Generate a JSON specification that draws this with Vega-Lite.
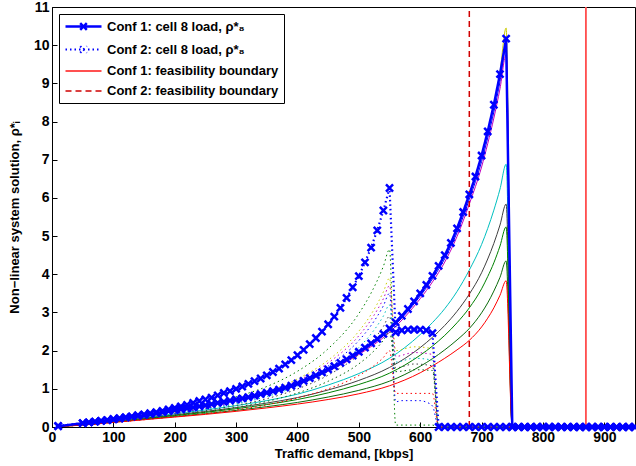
{
"$schema": "https://vega.github.io/schema/vega-lite/v6.json",
"width": 583, "height": 420,
"autosize": {"type": "none"},
"padding": {"left": 52, "top": 7, "right": 1, "bottom": 39},
"config": {
  "font": "Liberation Sans",
  "view": {"stroke": "black", "strokeWidth": 1},
  "axis": {"grid": false, "domainColor": "black", "tickColor": "black", "labelColor": "black", "titleColor": "black", "labelFont": "Liberation Sans", "titleFont": "Liberation Sans", "labelFontWeight": "bold", "labelFontSize": 14, "titleFontSize": 13, "titleFontWeight": "bold", "labelOverlap": false, "labelFlush": false},
  "legend": {"orient": "top-left", "offset": 7, "strokeColor": "black", "fillColor": "white", "padding": 5, "cornerRadius": 0, "labelFont": "Liberation Sans", "labelFontSize": 13, "labelFontWeight": "bold", "labelColor": "black", "labelLimit": 400, "symbolType": "M-3,0L3,0", "symbolSize": 144, "symbolOffset": 12, "labelOffset": 16, "rowPadding": 6}
},
"datasets": {
"main": [
{"x":10,"y":0.02,"s":"c1"},{"x":50,"y":0.10,"s":"c1"},{"x":60,"y":0.12,"s":"c1"},{"x":70,"y":0.14,"s":"c1"},{"x":80,"y":0.16,"s":"c1"},{"x":90,"y":0.18,"s":"c1"},{"x":100,"y":0.20,"s":"c1"},{"x":110,"y":0.22,"s":"c1"},{"x":120,"y":0.245,"s":"c1"},{"x":130,"y":0.27,"s":"c1"},{"x":140,"y":0.29,"s":"c1"},{"x":150,"y":0.315,"s":"c1"},{"x":160,"y":0.34,"s":"c1"},{"x":170,"y":0.365,"s":"c1"},{"x":180,"y":0.39,"s":"c1"},{"x":190,"y":0.415,"s":"c1"},{"x":200,"y":0.44,"s":"c1"},{"x":210,"y":0.465,"s":"c1"},{"x":220,"y":0.49,"s":"c1"},{"x":230,"y":0.515,"s":"c1"},{"x":240,"y":0.54,"s":"c1"},{"x":250,"y":0.57,"s":"c1"},{"x":260,"y":0.60,"s":"c1"},{"x":270,"y":0.63,"s":"c1"},{"x":280,"y":0.66,"s":"c1"},{"x":290,"y":0.69,"s":"c1"},{"x":300,"y":0.72,"s":"c1"},{"x":310,"y":0.75,"s":"c1"},{"x":320,"y":0.78,"s":"c1"},{"x":330,"y":0.82,"s":"c1"},{"x":340,"y":0.86,"s":"c1"},{"x":350,"y":0.90,"s":"c1"},{"x":360,"y":0.94,"s":"c1"},{"x":370,"y":0.98,"s":"c1"},{"x":380,"y":1.03,"s":"c1"},{"x":390,"y":1.08,"s":"c1"},{"x":400,"y":1.14,"s":"c1"},{"x":410,"y":1.21,"s":"c1"},{"x":420,"y":1.28,"s":"c1"},{"x":430,"y":1.35,"s":"c1"},{"x":440,"y":1.43,"s":"c1"},{"x":450,"y":1.51,"s":"c1"},{"x":460,"y":1.59,"s":"c1"},{"x":470,"y":1.68,"s":"c1"},{"x":480,"y":1.77,"s":"c1"},{"x":490,"y":1.87,"s":"c1"},{"x":500,"y":1.97,"s":"c1"},{"x":510,"y":2.08,"s":"c1"},{"x":520,"y":2.19,"s":"c1"},{"x":530,"y":2.31,"s":"c1"},{"x":540,"y":2.44,"s":"c1"},{"x":550,"y":2.58,"s":"c1"},{"x":560,"y":2.74,"s":"c1"},{"x":570,"y":2.91,"s":"c1"},{"x":580,"y":3.09,"s":"c1"},{"x":590,"y":3.29,"s":"c1"},{"x":600,"y":3.50,"s":"c1"},{"x":610,"y":3.72,"s":"c1"},{"x":620,"y":3.96,"s":"c1"},{"x":630,"y":4.22,"s":"c1"},{"x":640,"y":4.50,"s":"c1"},{"x":650,"y":4.82,"s":"c1"},{"x":660,"y":5.20,"s":"c1"},{"x":670,"y":5.63,"s":"c1"},{"x":680,"y":6.09,"s":"c1"},{"x":690,"y":6.56,"s":"c1"},{"x":700,"y":7.11,"s":"c1"},{"x":710,"y":7.74,"s":"c1"},{"x":720,"y":8.44,"s":"c1"},{"x":730,"y":9.24,"s":"c1"},{"x":740,"y":10.17,"s":"c1"},{"x":750,"y":0,"s":"c1"},{"x":760,"y":0,"s":"c1"},{"x":770,"y":0,"s":"c1"},{"x":780,"y":0,"s":"c1"},{"x":790,"y":0,"s":"c1"},{"x":800,"y":0,"s":"c1"},{"x":810,"y":0,"s":"c1"},{"x":820,"y":0,"s":"c1"},{"x":830,"y":0,"s":"c1"},{"x":840,"y":0,"s":"c1"},{"x":850,"y":0,"s":"c1"},{"x":860,"y":0,"s":"c1"},{"x":870,"y":0,"s":"c1"},{"x":880,"y":0,"s":"c1"},{"x":890,"y":0,"s":"c1"},{"x":900,"y":0,"s":"c1"},{"x":910,"y":0,"s":"c1"},{"x":920,"y":0,"s":"c1"},{"x":930,"y":0,"s":"c1"},{"x":940,"y":0,"s":"c1"},{"x":950,"y":0,"s":"c1"},
{"x":10,"y":0.03,"s":"c2"},{"x":50,"y":0.10,"s":"c2"},{"x":60,"y":0.12,"s":"c2"},{"x":70,"y":0.14,"s":"c2"},{"x":80,"y":0.16,"s":"c2"},{"x":90,"y":0.18,"s":"c2"},{"x":100,"y":0.21,"s":"c2"},{"x":110,"y":0.23,"s":"c2"},{"x":120,"y":0.26,"s":"c2"},{"x":130,"y":0.28,"s":"c2"},{"x":140,"y":0.31,"s":"c2"},{"x":150,"y":0.33,"s":"c2"},{"x":160,"y":0.36,"s":"c2"},{"x":170,"y":0.39,"s":"c2"},{"x":180,"y":0.42,"s":"c2"},{"x":190,"y":0.46,"s":"c2"},{"x":200,"y":0.50,"s":"c2"},{"x":210,"y":0.54,"s":"c2"},{"x":220,"y":0.58,"s":"c2"},{"x":230,"y":0.63,"s":"c2"},{"x":240,"y":0.68,"s":"c2"},{"x":250,"y":0.72,"s":"c2"},{"x":260,"y":0.77,"s":"c2"},{"x":270,"y":0.83,"s":"c2"},{"x":280,"y":0.89,"s":"c2"},{"x":290,"y":0.94,"s":"c2"},{"x":300,"y":1.00,"s":"c2"},{"x":310,"y":1.06,"s":"c2"},{"x":320,"y":1.13,"s":"c2"},{"x":330,"y":1.20,"s":"c2"},{"x":340,"y":1.27,"s":"c2"},{"x":350,"y":1.35,"s":"c2"},{"x":360,"y":1.44,"s":"c2"},{"x":370,"y":1.53,"s":"c2"},{"x":380,"y":1.64,"s":"c2"},{"x":390,"y":1.75,"s":"c2"},{"x":400,"y":1.88,"s":"c2"},{"x":410,"y":2.02,"s":"c2"},{"x":420,"y":2.17,"s":"c2"},{"x":430,"y":2.33,"s":"c2"},{"x":440,"y":2.50,"s":"c2"},{"x":450,"y":2.69,"s":"c2"},{"x":460,"y":2.89,"s":"c2"},{"x":470,"y":3.12,"s":"c2"},{"x":480,"y":3.38,"s":"c2"},{"x":490,"y":3.66,"s":"c2"},{"x":500,"y":3.95,"s":"c2"},{"x":510,"y":4.31,"s":"c2"},{"x":520,"y":4.70,"s":"c2"},{"x":530,"y":5.15,"s":"c2"},{"x":540,"y":5.67,"s":"c2"},{"x":550,"y":6.26,"s":"c2"},{"x":560,"y":2.48,"s":"c2"},{"x":570,"y":2.53,"s":"c2"},{"x":580,"y":2.55,"s":"c2"},{"x":590,"y":2.55,"s":"c2"},{"x":600,"y":2.55,"s":"c2"},{"x":610,"y":2.53,"s":"c2"},{"x":620,"y":2.46,"s":"c2"},{"x":630,"y":0,"s":"c2"},{"x":640,"y":0,"s":"c2"},{"x":650,"y":0,"s":"c2"},{"x":660,"y":0,"s":"c2"},{"x":670,"y":0,"s":"c2"},{"x":680,"y":0,"s":"c2"},{"x":690,"y":0,"s":"c2"},{"x":700,"y":0,"s":"c2"},{"x":710,"y":0,"s":"c2"},{"x":720,"y":0,"s":"c2"},{"x":730,"y":0,"s":"c2"},{"x":740,"y":0,"s":"c2"},{"x":750,"y":0,"s":"c2"},{"x":760,"y":0,"s":"c2"},{"x":770,"y":0,"s":"c2"},{"x":780,"y":0,"s":"c2"},{"x":790,"y":0,"s":"c2"},{"x":800,"y":0,"s":"c2"},{"x":810,"y":0,"s":"c2"},{"x":820,"y":0,"s":"c2"},{"x":830,"y":0,"s":"c2"},{"x":840,"y":0,"s":"c2"},{"x":850,"y":0,"s":"c2"},{"x":860,"y":0,"s":"c2"},{"x":870,"y":0,"s":"c2"},{"x":880,"y":0,"s":"c2"},{"x":890,"y":0,"s":"c2"},{"x":900,"y":0,"s":"c2"},{"x":910,"y":0,"s":"c2"},{"x":920,"y":0,"s":"c2"},{"x":930,"y":0,"s":"c2"},{"x":940,"y":0,"s":"c2"},{"x":950,"y":0,"s":"c2"},
{"x":870,"y":0,"s":"b1"},{"x":870,"y":11,"s":"b1"},
{"x":680,"y":0,"s":"b2"},{"x":680,"y":11,"s":"b2"}
],
"thin1": [
{"x":10,"y":0.02,"cell":"cell 6"},{"x":50,"y":0.10,"cell":"cell 6"},{"x":100,"y":0.20,"cell":"cell 6"},{"x":150,"y":0.315,"cell":"cell 6"},{"x":200,"y":0.44,"cell":"cell 6"},{"x":250,"y":0.57,"cell":"cell 6"},{"x":300,"y":0.72,"cell":"cell 6"},{"x":350,"y":0.90,"cell":"cell 6"},{"x":400,"y":1.14,"cell":"cell 6"},{"x":450,"y":1.51,"cell":"cell 6"},{"x":500,"y":1.97,"cell":"cell 6"},{"x":550,"y":2.58,"cell":"cell 6"},{"x":600,"y":3.50,"cell":"cell 6"},{"x":620,"y":3.96,"cell":"cell 6"},{"x":640,"y":4.50,"cell":"cell 6"},{"x":660,"y":5.20,"cell":"cell 6"},{"x":680,"y":6.09,"cell":"cell 6"},{"x":700,"y":7.11,"cell":"cell 6"},{"x":710,"y":7.74,"cell":"cell 6"},{"x":720,"y":8.44,"cell":"cell 6"},{"x":730,"y":9.30,"cell":"cell 6"},{"x":740,"y":10.45,"cell":"cell 6"},{"x":750,"y":0,"cell":"cell 6"},{"x":950,"y":0,"cell":"cell 6"},
{"x":10,"y":0.02,"cell":"cell 1"},{"x":50,"y":0.10,"cell":"cell 1"},{"x":100,"y":0.20,"cell":"cell 1"},{"x":150,"y":0.31,"cell":"cell 1"},{"x":200,"y":0.43,"cell":"cell 1"},{"x":250,"y":0.56,"cell":"cell 1"},{"x":300,"y":0.71,"cell":"cell 1"},{"x":350,"y":0.89,"cell":"cell 1"},{"x":400,"y":1.12,"cell":"cell 1"},{"x":450,"y":1.48,"cell":"cell 1"},{"x":500,"y":1.93,"cell":"cell 1"},{"x":550,"y":2.53,"cell":"cell 1"},{"x":600,"y":3.43,"cell":"cell 1"},{"x":620,"y":3.88,"cell":"cell 1"},{"x":640,"y":4.41,"cell":"cell 1"},{"x":660,"y":5.09,"cell":"cell 1"},{"x":680,"y":5.96,"cell":"cell 1"},{"x":700,"y":6.95,"cell":"cell 1"},{"x":710,"y":7.57,"cell":"cell 1"},{"x":720,"y":8.25,"cell":"cell 1"},{"x":730,"y":9.04,"cell":"cell 1"},{"x":740,"y":9.95,"cell":"cell 1"},{"x":750,"y":0,"cell":"cell 1"},{"x":950,"y":0,"cell":"cell 1"},
{"x":10,"y":0.02,"cell":"cell 5"},{"x":50,"y":0.10,"cell":"cell 5"},{"x":100,"y":0.195,"cell":"cell 5"},{"x":150,"y":0.31,"cell":"cell 5"},{"x":200,"y":0.43,"cell":"cell 5"},{"x":250,"y":0.55,"cell":"cell 5"},{"x":300,"y":0.70,"cell":"cell 5"},{"x":350,"y":0.87,"cell":"cell 5"},{"x":400,"y":1.10,"cell":"cell 5"},{"x":450,"y":1.46,"cell":"cell 5"},{"x":500,"y":1.90,"cell":"cell 5"},{"x":550,"y":2.48,"cell":"cell 5"},{"x":600,"y":3.36,"cell":"cell 5"},{"x":620,"y":3.80,"cell":"cell 5"},{"x":640,"y":4.32,"cell":"cell 5"},{"x":660,"y":4.99,"cell":"cell 5"},{"x":680,"y":5.84,"cell":"cell 5"},{"x":700,"y":6.81,"cell":"cell 5"},{"x":710,"y":7.42,"cell":"cell 5"},{"x":720,"y":8.09,"cell":"cell 5"},{"x":730,"y":8.86,"cell":"cell 5"},{"x":740,"y":9.75,"cell":"cell 5"},{"x":750,"y":0,"cell":"cell 5"},{"x":950,"y":0,"cell":"cell 5"},
{"x":10,"y":0.015,"cell":"cell 4"},{"x":50,"y":0.074,"cell":"cell 4"},{"x":100,"y":0.158,"cell":"cell 4"},{"x":150,"y":0.25,"cell":"cell 4"},{"x":200,"y":0.347,"cell":"cell 4"},{"x":250,"y":0.445,"cell":"cell 4"},{"x":300,"y":0.559,"cell":"cell 4"},{"x":350,"y":0.692,"cell":"cell 4"},{"x":400,"y":0.86,"cell":"cell 4"},{"x":450,"y":1.10,"cell":"cell 4"},{"x":500,"y":1.40,"cell":"cell 4"},{"x":550,"y":1.80,"cell":"cell 4"},{"x":600,"y":2.42,"cell":"cell 4"},{"x":620,"y":2.735,"cell":"cell 4"},{"x":640,"y":3.10,"cell":"cell 4"},{"x":660,"y":3.55,"cell":"cell 4"},{"x":680,"y":4.11,"cell":"cell 4"},{"x":700,"y":4.78,"cell":"cell 4"},{"x":710,"y":5.20,"cell":"cell 4"},{"x":720,"y":5.68,"cell":"cell 4"},{"x":730,"y":6.23,"cell":"cell 4"},{"x":740,"y":6.88,"cell":"cell 4"},{"x":750,"y":0,"cell":"cell 4"},{"x":950,"y":0,"cell":"cell 4"},
{"x":10,"y":0.013,"cell":"cell 7"},{"x":50,"y":0.066,"cell":"cell 7"},{"x":100,"y":0.145,"cell":"cell 7"},{"x":150,"y":0.23,"cell":"cell 7"},{"x":200,"y":0.317,"cell":"cell 7"},{"x":250,"y":0.406,"cell":"cell 7"},{"x":300,"y":0.508,"cell":"cell 7"},{"x":350,"y":0.627,"cell":"cell 7"},{"x":400,"y":0.771,"cell":"cell 7"},{"x":450,"y":0.97,"cell":"cell 7"},{"x":500,"y":1.22,"cell":"cell 7"},{"x":550,"y":1.56,"cell":"cell 7"},{"x":600,"y":2.08,"cell":"cell 7"},{"x":620,"y":2.35,"cell":"cell 7"},{"x":640,"y":2.66,"cell":"cell 7"},{"x":660,"y":3.03,"cell":"cell 7"},{"x":680,"y":3.48,"cell":"cell 7"},{"x":700,"y":4.04,"cell":"cell 7"},{"x":710,"y":4.40,"cell":"cell 7"},{"x":720,"y":4.81,"cell":"cell 7"},{"x":730,"y":5.29,"cell":"cell 7"},{"x":740,"y":5.84,"cell":"cell 7"},{"x":750,"y":0,"cell":"cell 7"},{"x":950,"y":0,"cell":"cell 7"},
{"x":10,"y":0.012,"cell":"cell 2"},{"x":50,"y":0.061,"cell":"cell 2"},{"x":100,"y":0.138,"cell":"cell 2"},{"x":150,"y":0.218,"cell":"cell 2"},{"x":200,"y":0.30,"cell":"cell 2"},{"x":250,"y":0.383,"cell":"cell 2"},{"x":300,"y":0.479,"cell":"cell 2"},{"x":350,"y":0.589,"cell":"cell 2"},{"x":400,"y":0.72,"cell":"cell 2"},{"x":450,"y":0.895,"cell":"cell 2"},{"x":500,"y":1.114,"cell":"cell 2"},{"x":550,"y":1.41,"cell":"cell 2"},{"x":600,"y":1.88,"cell":"cell 2"},{"x":620,"y":2.12,"cell":"cell 2"},{"x":640,"y":2.40,"cell":"cell 2"},{"x":660,"y":2.73,"cell":"cell 2"},{"x":680,"y":3.12,"cell":"cell 2"},{"x":700,"y":3.62,"cell":"cell 2"},{"x":710,"y":3.94,"cell":"cell 2"},{"x":720,"y":4.30,"cell":"cell 2"},{"x":730,"y":4.74,"cell":"cell 2"},{"x":740,"y":5.24,"cell":"cell 2"},{"x":750,"y":0,"cell":"cell 2"},{"x":950,"y":0,"cell":"cell 2"},
{"x":10,"y":0.011,"cell":"cell 9"},{"x":50,"y":0.054,"cell":"cell 9"},{"x":100,"y":0.127,"cell":"cell 9"},{"x":150,"y":0.20,"cell":"cell 9"},{"x":200,"y":0.275,"cell":"cell 9"},{"x":250,"y":0.35,"cell":"cell 9"},{"x":300,"y":0.435,"cell":"cell 9"},{"x":350,"y":0.533,"cell":"cell 9"},{"x":400,"y":0.644,"cell":"cell 9"},{"x":450,"y":0.785,"cell":"cell 9"},{"x":500,"y":0.96,"cell":"cell 9"},{"x":550,"y":1.20,"cell":"cell 9"},{"x":600,"y":1.59,"cell":"cell 9"},{"x":620,"y":1.79,"cell":"cell 9"},{"x":640,"y":2.02,"cell":"cell 9"},{"x":660,"y":2.28,"cell":"cell 9"},{"x":680,"y":2.58,"cell":"cell 9"},{"x":700,"y":2.99,"cell":"cell 9"},{"x":710,"y":3.25,"cell":"cell 9"},{"x":720,"y":3.56,"cell":"cell 9"},{"x":730,"y":3.92,"cell":"cell 9"},{"x":740,"y":4.35,"cell":"cell 9"},{"x":750,"y":0,"cell":"cell 9"},{"x":950,"y":0,"cell":"cell 9"},
{"x":10,"y":0.01,"cell":"cell 3"},{"x":50,"y":0.05,"cell":"cell 3"},{"x":100,"y":0.12,"cell":"cell 3"},{"x":150,"y":0.19,"cell":"cell 3"},{"x":200,"y":0.26,"cell":"cell 3"},{"x":250,"y":0.33,"cell":"cell 3"},{"x":300,"y":0.41,"cell":"cell 3"},{"x":350,"y":0.50,"cell":"cell 3"},{"x":400,"y":0.60,"cell":"cell 3"},{"x":450,"y":0.72,"cell":"cell 3"},{"x":500,"y":0.87,"cell":"cell 3"},{"x":550,"y":1.08,"cell":"cell 3"},{"x":600,"y":1.42,"cell":"cell 3"},{"x":620,"y":1.60,"cell":"cell 3"},{"x":640,"y":1.80,"cell":"cell 3"},{"x":660,"y":2.02,"cell":"cell 3"},{"x":680,"y":2.27,"cell":"cell 3"},{"x":700,"y":2.62,"cell":"cell 3"},{"x":710,"y":2.85,"cell":"cell 3"},{"x":720,"y":3.12,"cell":"cell 3"},{"x":730,"y":3.45,"cell":"cell 3"},{"x":740,"y":3.83,"cell":"cell 3"},{"x":750,"y":0,"cell":"cell 3"},{"x":950,"y":0,"cell":"cell 3"}
],
"thin2": [
{"x":10,"y":0.022,"cell":"cell 2"},{"x":50,"y":0.081,"cell":"cell 2"},{"x":100,"y":0.176,"cell":"cell 2"},{"x":150,"y":0.277,"cell":"cell 2"},{"x":200,"y":0.413,"cell":"cell 2"},{"x":250,"y":0.58,"cell":"cell 2"},{"x":300,"y":0.79,"cell":"cell 2"},{"x":350,"y":1.06,"cell":"cell 2"},{"x":400,"y":1.46,"cell":"cell 2"},{"x":450,"y":2.05,"cell":"cell 2"},{"x":500,"y":2.97,"cell":"cell 2"},{"x":520,"y":3.51,"cell":"cell 2"},{"x":540,"y":4.21,"cell":"cell 2"},{"x":550,"y":4.65,"cell":"cell 2"},{"x":560,"y":0.05,"cell":"cell 2"},{"x":620,"y":0.05,"cell":"cell 2"},{"x":630,"y":0,"cell":"cell 2"},{"x":950,"y":0,"cell":"cell 2"},
{"x":10,"y":0.019,"cell":"cell 6"},{"x":50,"y":0.072,"cell":"cell 6"},{"x":100,"y":0.16,"cell":"cell 6"},{"x":150,"y":0.252,"cell":"cell 6"},{"x":200,"y":0.373,"cell":"cell 6"},{"x":250,"y":0.515,"cell":"cell 6"},{"x":300,"y":0.695,"cell":"cell 6"},{"x":350,"y":0.923,"cell":"cell 6"},{"x":400,"y":1.26,"cell":"cell 6"},{"x":450,"y":1.75,"cell":"cell 6"},{"x":500,"y":2.51,"cell":"cell 6"},{"x":520,"y":2.95,"cell":"cell 6"},{"x":540,"y":3.54,"cell":"cell 6"},{"x":550,"y":3.90,"cell":"cell 6"},{"x":560,"y":2.0,"cell":"cell 6"},{"x":590,"y":2.1,"cell":"cell 6"},{"x":620,"y":2.05,"cell":"cell 6"},{"x":630,"y":0,"cell":"cell 6"},{"x":950,"y":0,"cell":"cell 6"},
{"x":10,"y":0.018,"cell":"cell 5"},{"x":50,"y":0.07,"cell":"cell 5"},{"x":100,"y":0.156,"cell":"cell 5"},{"x":150,"y":0.246,"cell":"cell 5"},{"x":200,"y":0.362,"cell":"cell 5"},{"x":250,"y":0.498,"cell":"cell 5"},{"x":300,"y":0.67,"cell":"cell 5"},{"x":350,"y":0.888,"cell":"cell 5"},{"x":400,"y":1.21,"cell":"cell 5"},{"x":450,"y":1.68,"cell":"cell 5"},{"x":500,"y":2.39,"cell":"cell 5"},{"x":520,"y":2.81,"cell":"cell 5"},{"x":540,"y":3.36,"cell":"cell 5"},{"x":550,"y":3.70,"cell":"cell 5"},{"x":560,"y":1.85,"cell":"cell 5"},{"x":590,"y":1.95,"cell":"cell 5"},{"x":620,"y":1.9,"cell":"cell 5"},{"x":630,"y":0,"cell":"cell 5"},{"x":950,"y":0,"cell":"cell 5"},
{"x":10,"y":0.017,"cell":"cell 1"},{"x":50,"y":0.068,"cell":"cell 1"},{"x":100,"y":0.152,"cell":"cell 1"},{"x":150,"y":0.239,"cell":"cell 1"},{"x":200,"y":0.351,"cell":"cell 1"},{"x":250,"y":0.48,"cell":"cell 1"},{"x":300,"y":0.644,"cell":"cell 1"},{"x":350,"y":0.851,"cell":"cell 1"},{"x":400,"y":1.154,"cell":"cell 1"},{"x":450,"y":1.595,"cell":"cell 1"},{"x":500,"y":2.265,"cell":"cell 1"},{"x":520,"y":2.66,"cell":"cell 1"},{"x":540,"y":3.175,"cell":"cell 1"},{"x":550,"y":3.50,"cell":"cell 1"},{"x":560,"y":0.66,"cell":"cell 1"},{"x":570,"y":0.69,"cell":"cell 1"},{"x":600,"y":0.69,"cell":"cell 1"},{"x":610,"y":0.65,"cell":"cell 1"},{"x":620,"y":0.55,"cell":"cell 1"},{"x":630,"y":0,"cell":"cell 1"},{"x":950,"y":0,"cell":"cell 1"},
{"x":10,"y":0.016,"cell":"cell 4"},{"x":50,"y":0.064,"cell":"cell 4"},{"x":100,"y":0.145,"cell":"cell 4"},{"x":150,"y":0.229,"cell":"cell 4"},{"x":200,"y":0.335,"cell":"cell 4"},{"x":250,"y":0.454,"cell":"cell 4"},{"x":300,"y":0.605,"cell":"cell 4"},{"x":350,"y":0.797,"cell":"cell 4"},{"x":400,"y":1.076,"cell":"cell 4"},{"x":450,"y":1.477,"cell":"cell 4"},{"x":500,"y":2.083,"cell":"cell 4"},{"x":520,"y":2.438,"cell":"cell 4"},{"x":540,"y":2.906,"cell":"cell 4"},{"x":550,"y":3.20,"cell":"cell 4"},{"x":560,"y":1.7,"cell":"cell 4"},{"x":590,"y":1.8,"cell":"cell 4"},{"x":620,"y":1.75,"cell":"cell 4"},{"x":630,"y":0,"cell":"cell 4"},{"x":950,"y":0,"cell":"cell 4"},
{"x":10,"y":0.014,"cell":"cell 7"},{"x":50,"y":0.061,"cell":"cell 7"},{"x":100,"y":0.139,"cell":"cell 7"},{"x":150,"y":0.22,"cell":"cell 7"},{"x":200,"y":0.319,"cell":"cell 7"},{"x":250,"y":0.428,"cell":"cell 7"},{"x":300,"y":0.566,"cell":"cell 7"},{"x":350,"y":0.742,"cell":"cell 7"},{"x":400,"y":0.996,"cell":"cell 7"},{"x":450,"y":1.357,"cell":"cell 7"},{"x":500,"y":1.899,"cell":"cell 7"},{"x":520,"y":2.215,"cell":"cell 7"},{"x":540,"y":2.632,"cell":"cell 7"},{"x":550,"y":2.90,"cell":"cell 7"},{"x":560,"y":1.55,"cell":"cell 7"},{"x":590,"y":1.65,"cell":"cell 7"},{"x":620,"y":1.6,"cell":"cell 7"},{"x":630,"y":0,"cell":"cell 7"},{"x":950,"y":0,"cell":"cell 7"},
{"x":10,"y":0.012,"cell":"cell 9"},{"x":50,"y":0.056,"cell":"cell 9"},{"x":100,"y":0.131,"cell":"cell 9"},{"x":150,"y":0.206,"cell":"cell 9"},{"x":200,"y":0.297,"cell":"cell 9"},{"x":250,"y":0.393,"cell":"cell 9"},{"x":300,"y":0.514,"cell":"cell 9"},{"x":350,"y":0.67,"cell":"cell 9"},{"x":400,"y":0.891,"cell":"cell 9"},{"x":450,"y":1.198,"cell":"cell 9"},{"x":500,"y":1.654,"cell":"cell 9"},{"x":520,"y":1.919,"cell":"cell 9"},{"x":540,"y":2.27,"cell":"cell 9"},{"x":550,"y":2.50,"cell":"cell 9"},{"x":560,"y":1.45,"cell":"cell 9"},{"x":590,"y":1.5,"cell":"cell 9"},{"x":620,"y":1.48,"cell":"cell 9"},{"x":630,"y":0,"cell":"cell 9"},{"x":950,"y":0,"cell":"cell 9"},
{"x":10,"y":0.01,"cell":"cell 3"},{"x":50,"y":0.05,"cell":"cell 3"},{"x":100,"y":0.12,"cell":"cell 3"},{"x":150,"y":0.19,"cell":"cell 3"},{"x":200,"y":0.27,"cell":"cell 3"},{"x":250,"y":0.35,"cell":"cell 3"},{"x":300,"y":0.45,"cell":"cell 3"},{"x":350,"y":0.58,"cell":"cell 3"},{"x":400,"y":0.76,"cell":"cell 3"},{"x":450,"y":1.0,"cell":"cell 3"},{"x":500,"y":1.35,"cell":"cell 3"},{"x":520,"y":1.55,"cell":"cell 3"},{"x":540,"y":1.82,"cell":"cell 3"},{"x":550,"y":2.0,"cell":"cell 3"},{"x":560,"y":0.88,"cell":"cell 3"},{"x":620,"y":0.88,"cell":"cell 3"},{"x":630,"y":0,"cell":"cell 3"},{"x":950,"y":0,"cell":"cell 3"}
]
},
"encoding": {
  "x": {"field": "x", "type": "quantitative", "scale": {"domain": [0, 950], "nice": false, "zero": false}, "axis": {"values": [0,100,200,300,400,500,600,700,800,900], "title": "Traffic demand, [kbps]", "titlePadding": 3, "labelFontSize": 14, "labelFontWeight": "bold", "labelOverlap": false, "tickSize": -5, "labelPadding": 8}},
  "y": {"field": "y", "type": "quantitative", "scale": {"domain": [0, 11], "nice": false}, "axis": {"values": [0,1,2,3,4,5,6,7,8,9,10,11], "title": "Non−linear system solution, ρ*ᵢ", "titlePadding": 12, "labelFontSize": 14, "labelFontWeight": "bold", "labelOverlap": false, "tickSize": -5, "labelPadding": 8}}
},
"layer": [
{
 "data": {"name": "thin1"},
 "mark": {"type": "line", "strokeWidth": 1, "interpolate": "monotone"},
 "encoding": {
  "color": {"field": "cell", "type": "nominal", "legend": null, "scale": {"domain": ["cell 1","cell 2","cell 3","cell 4","cell 5","cell 6","cell 7","cell 9"], "range": ["#0000ff","#008000","#ff0000","#00bfbf","#bf00bf","#cccc00","#404040","#0b6b0b"]}}
 }
},
{
 "data": {"name": "thin2"},
 "mark": {"type": "line", "strokeWidth": 1, "strokeDash": [1.5, 3], "interpolate": "monotone"},
 "encoding": {
  "color": {"field": "cell", "type": "nominal", "legend": null, "scale": {"domain": ["cell 1","cell 2","cell 3","cell 4","cell 5","cell 6","cell 7","cell 9"], "range": ["#0000ff","#008000","#ff0000","#00bfbf","#bf00bf","#cccc00","#404040","#0b6b0b"]}}
 }
},
{
 "data": {"name": "main"},
 "mark": {"type": "line"},
 "encoding": {
  "color": {"field": "s", "type": "nominal", "scale": {"domain": ["c1","c2","b1","b2"], "range": ["#0000ff","#0000ff","#ff5050","#d00000"]},
   "legend": {"title": null,
     "labelExpr": "datum.value == 'c1' ? 'Conf 1: cell 8 load, ρ*₈' : datum.value == 'c2' ? 'Conf 2: cell 8 load, ρ*₈' : datum.value == 'b1' ? 'Conf 1: feasibility boundary' : 'Conf 2: feasibility boundary'",
     "encode": {"symbols": {"update": {"shape": [{"test": "datum.value == 'c1' || datum.value == 'c2'", "value": "M-3,0L3,0M-0.55,-0.55L0.55,0.55M-0.55,0.55L0.55,-0.55"}, {"value": "M-3,0L3,0"}], "fill": {"value": "transparent"}}}}}},
  "strokeDash": {"field": "s", "type": "nominal", "scale": {"domain": ["c1","c2","b1","b2"], "range": [[1,0],[1.5,3],[1,0],[6,4]]},
   "legend": {"title": null,
     "labelExpr": "datum.value == 'c1' ? 'Conf 1: cell 8 load, ρ*₈' : datum.value == 'c2' ? 'Conf 2: cell 8 load, ρ*₈' : datum.value == 'b1' ? 'Conf 1: feasibility boundary' : 'Conf 2: feasibility boundary'",
     "encode": {"symbols": {"update": {"shape": [{"test": "datum.value == 'c1' || datum.value == 'c2'", "value": "M-3,0L3,0M-0.55,-0.55L0.55,0.55M-0.55,0.55L0.55,-0.55"}, {"value": "M-3,0L3,0"}], "fill": {"value": "transparent"}}}}}},
  "strokeWidth": {"field": "s", "type": "nominal", "scale": {"domain": ["c1","c2","b1","b2"], "range": [2.5,1.5,1,1]},
   "legend": {"title": null,
     "labelExpr": "datum.value == 'c1' ? 'Conf 1: cell 8 load, ρ*₈' : datum.value == 'c2' ? 'Conf 2: cell 8 load, ρ*₈' : datum.value == 'b1' ? 'Conf 1: feasibility boundary' : 'Conf 2: feasibility boundary'",
     "encode": {"symbols": {"update": {"shape": [{"test": "datum.value == 'c1' || datum.value == 'c2'", "value": "M-3,0L3,0M-0.55,-0.55L0.55,0.55M-0.55,0.55L0.55,-0.55"}, {"value": "M-3,0L3,0"}], "fill": {"value": "transparent"}}}}}}
 }
},
{
 "data": {"name": "main"},
 "transform": [{"filter": "datum.s == 'c1' || datum.s == 'c2'"}],
 "mark": {"type": "point", "shape": "M-1,-1L1,1M-1,1L1,-1", "filled": false, "color": "#0000ff", "strokeWidth": 2.5, "size": 50, "opacity": 1}
}
],
"resolve": {"scale": {"color": "independent", "strokeDash": "independent", "strokeWidth": "independent"}}
}
